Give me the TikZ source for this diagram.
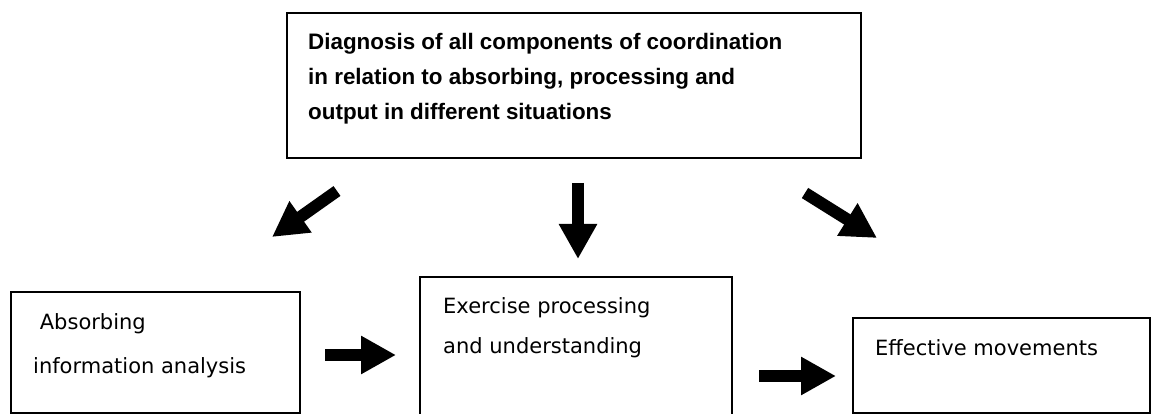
\documentclass[tikz,border=0pt]{standalone}
\usepackage{fontspec}
\setmainfont{DejaVu Sans}
\newfontfamily\topfont{Liberation Sans}
\usetikzlibrary{arrows.meta,calc}
\tikzset{
  box/.style={draw=black, line width=1.3pt, fill=none, inner sep=0pt},
  toptext/.style={anchor=base west, inner sep=0pt, font=\topfont\bfseries\fontsize{22.4}{26}\selectfont},
  lowtext/.style={anchor=base west, inner sep=0pt, font=\fontsize{21}{25}\selectfont},
  blockarrow/.style={line width=12pt, -{Triangle[width=36pt,length=35pt]}, black}
}
\begin{document}
\begin{tikzpicture}[x=1pt,y=-1pt]
\useasboundingbox[fill=white] (0,0) rectangle (1160,414);
% boxes
\node[box, minimum width=574pt, minimum height=145pt] (diag) at (574,85.5) {};
\node[box, minimum width=289pt, minimum height=121pt] (absorb) at (155.5,352.5) {};
\node[box, minimum width=312pt, minimum height=160pt] (exer) at (576,357) {};
\node[box, minimum width=297pt, minimum height=95pt] (effect) at (1001.5,365.5) {};
% texts
\node[toptext] (tdiag1) at (308,50) {Diagnosis of all components of coordination};
\node[toptext] (tdiag2) at (308,85) {in relation to absorbing, processing and};
\node[toptext] (tdiag3) at (308,120) {output in different situations};
\node[lowtext] (tabs1) at (33,329) {\ Absorbing};
\node[lowtext] (tabs2) at (33,373) {information analysis};
\node[lowtext] (texer1) at (443,313) {Exercise processing};
\node[lowtext] (texer2) at (443,353) {and understanding};
\node[lowtext] (teff) at (875,355) {Effective movements};
% arrow end points
\coordinate (a1s) at (337,191);
\coordinate (a1e) at (272,237);
\coordinate (a2s) at (578,183);
\coordinate (a2e) at (578,259);
\coordinate (a3s) at (805,193);
\coordinate (a3e) at (877,238);
\coordinate (h1s) at (325,355);
\coordinate (h1e) at (396,355);
\coordinate (h2s) at (759,376);
\coordinate (h2e) at (836,376);
\draw[blockarrow] (a1s) -- (a1e);
\draw[blockarrow] (a2s) -- (a2e);
\draw[blockarrow] (a3s) -- (a3e);
\draw[blockarrow] (h1s) -- (h1e);
\draw[blockarrow] (h2s) -- (h2e);
\end{tikzpicture}
\end{document}
